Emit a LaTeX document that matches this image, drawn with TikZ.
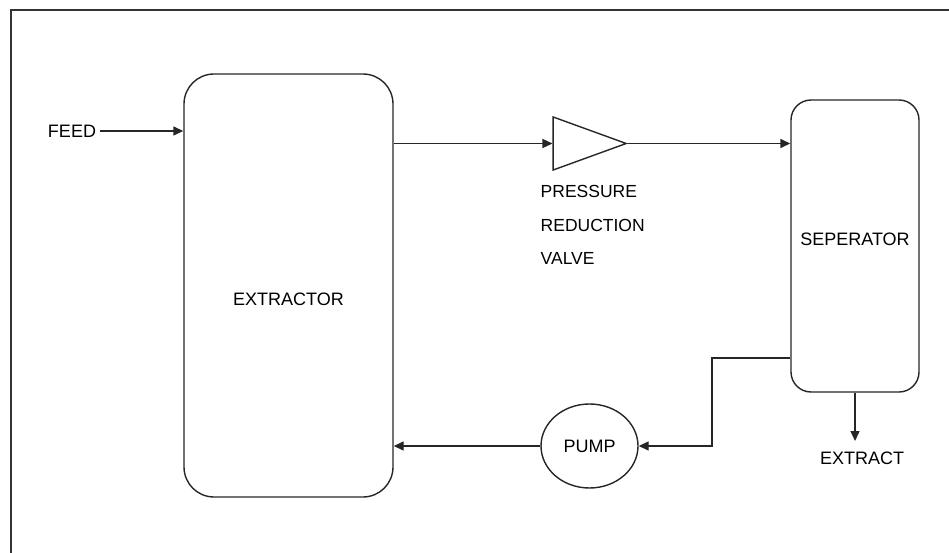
\documentclass[tikz,border=0pt]{standalone}
\usepackage{fontspec}
\setmainfont{Liberation Sans}
\usetikzlibrary{arrows.meta,shapes.geometric}

\begin{document}
\begin{tikzpicture}[x=1pt, y=-1pt, >={Triangle[length=10pt,width=9pt]},
  font=\fontsize{18}{21}\selectfont, line width=1.4pt, draw=black!85,
  vessel/.style={draw, rectangle, rounded corners=30pt, inner sep=0pt},
  valve/.style={draw, isosceles triangle, isosceles triangle stretches, inner sep=0pt, minimum width=53pt, minimum height=73pt},
  pumpbox/.style={draw, ellipse, inner sep=0pt, minimum width=97pt, minimum height=84pt},
  tag/.style={inner sep=0pt},
  frame/.style={draw=black!80, line width=1.6pt}]
\useasboundingbox (0,0) rectangle (949,553);
\draw[frame] (949,10) -- (11,10) -- (11,553);
% ---------------- units
\node[vessel, minimum width=209pt, minimum height=423pt] (extractor) at (288.5,285.5) {};
\node[tag] (extractortext) at ([yshift=-13.5pt]extractor.center) {EXTRACTOR};
\node[vessel, rounded corners=20pt, minimum width=128pt, minimum height=292pt] (separator) at (855,246) {};
\node[tag] (separatortext) at ([yshift=7pt]separator.center) {SEPERATOR};
\node[valve, anchor=apex] (prv) at (628,143.5) {};
\node[tag, anchor=base west, align=left, font=\fontsize{17.5}{33.5}\selectfont] (prvtext) at (540,264.5) {PRESSURE\\REDUCTION\\VALVE};
\node[pumpbox] (pump) at (589.5,446) {PUMP};
% ---------------- streams
\node (feed) at (72,131) {FEED};
\node[tag] (extract) at (862,458) {EXTRACT};
\coordinate (bend) at (712,358);
\coordinate (extractend) at (855,441);
\draw[->] (feed.east) -- (feed.east -| extractor.west);
\draw[->] (extractor.east |- prv.apex) -- (prv.lower side);
\draw[->] (prv.apex) -- (prv.apex -| separator.west);
\draw[->] (separator.west |- bend) -- (bend) |- (pump.east);
\draw[->] (pump.west) -- (pump.west -| extractor.east);
\draw[->] (separator.south) -- (extractend);
\end{tikzpicture}
\end{document}
